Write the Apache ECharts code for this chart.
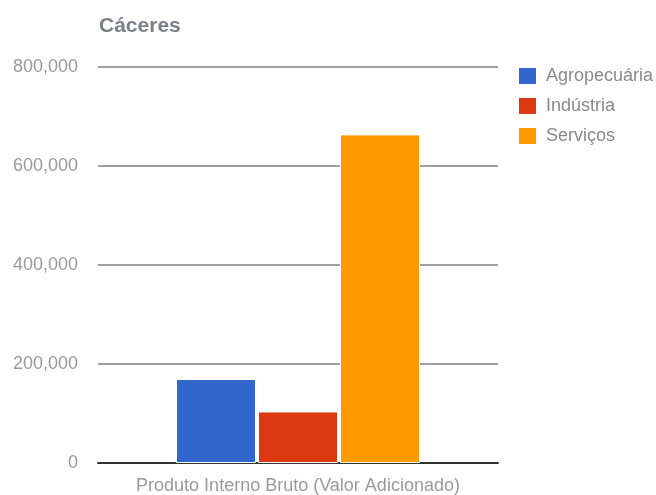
<!DOCTYPE html>
<html>
<head>
<meta charset="utf-8">
<script src="https://cdn.jsdelivr.net/npm/echarts@6/dist/echarts.min.js"></script>
<style>html,body{margin:0;padding:0;background:#fff}#c{width:656px;height:495px}</style>
</head>
<body>
<div id="c"></div>
<script>
var title = 'Cáceres';
var categories = ['Produto Interno Bruto (Valor Adicionado)'];
var seriesNames = ['Agropecuária', 'Indústria', 'Serviços'];
var agropecuaria = [169700];
var industria = [104100];
var servicos = [663800];
var yTicks = [0, 200000, 400000, 600000, 800000];
var colors = ['#3366cc', '#dc3912', '#ff9900'];

var values = [agropecuaria, industria, servicos];
var chart = echarts.init(document.getElementById('c'));
var font = 'Arial, "Liberation Sans", sans-serif';
chart.setOption({
  animation: false,
  title: {
    text: title, left: 94, top: 11,
    textStyle: { fontFamily: font, fontSize: 21, fontWeight: 'bold', color: '#7b7f86' }
  },
  legend: {
    orient: 'vertical', left: 512, top: 61,
    itemWidth: 19, itemHeight: 18, itemGap: 10, icon: 'rect',
    data: seriesNames,
    textStyle: { fontFamily: font, fontSize: 18, lineHeight: 18, color: '#8a8a8a', padding: [0, 0, 0, 4] }
  },
  grid: { left: 98, right: 158, top: 67, bottom: 30, containLabel: false },
  xAxis: {
    type: 'category', data: categories,
    axisLine: { lineStyle: { color: '#333', width: 2 } },
    axisTick: { show: false },
    axisLabel: { fontFamily: font, fontSize: 18, color: '#9a9a9a', margin: 14 }
  },
  yAxis: {
    type: 'value', min: yTicks[0], max: yTicks[yTicks.length - 1], interval: yTicks[1] - yTicks[0],
    axisLine: { show: false }, axisTick: { show: false },
    splitLine: { lineStyle: { color: '#a0a0a0', width: 2 } },
    axisLabel: {
      fontFamily: font, fontSize: 18, color: '#9a9a9a', margin: 20,
      formatter: function (v) { return v.toLocaleString('en-US'); }
    }
  },
  series: seriesNames.map(function (n, i) {
    return {
      name: n, type: 'bar', data: values[i],
      barCategoryGap: '39%', barGap: '2.5%',
      itemStyle: { color: colors[i], borderColor: '#fff', borderWidth: 1 }
    };
  })
});
</script>
</body>
</html>
